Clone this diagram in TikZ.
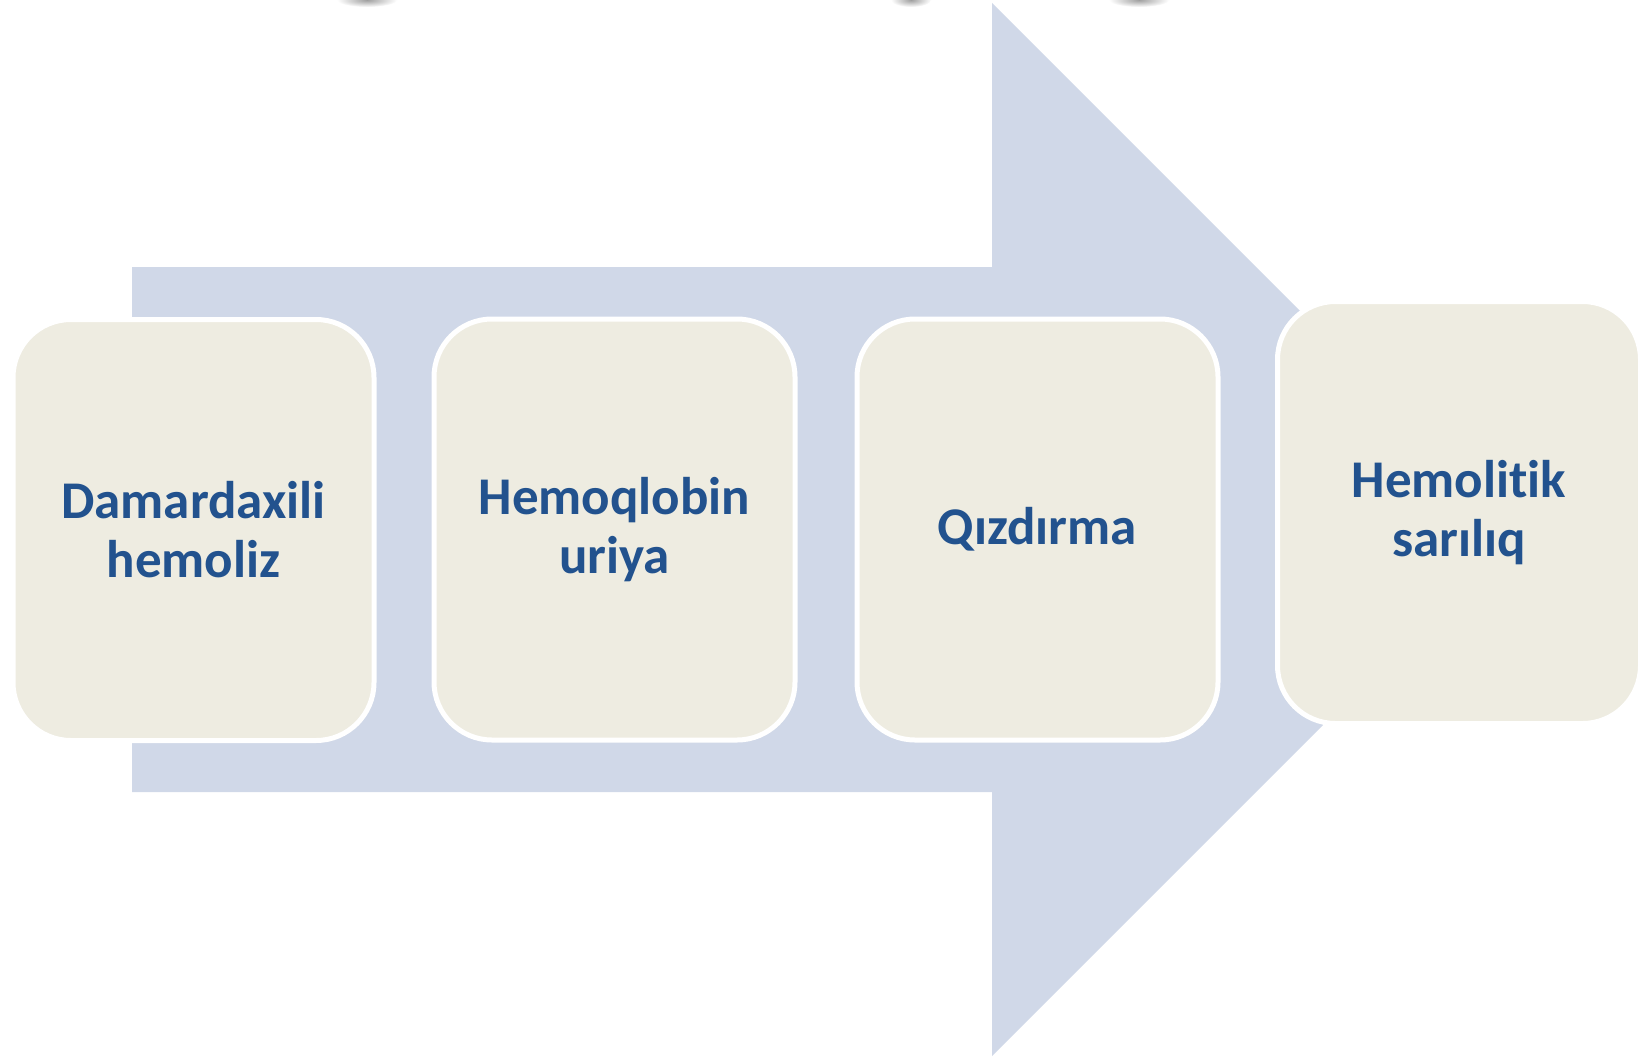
\documentclass[tikz,border=0pt]{standalone}
\usepackage{fontspec}
\setmainfont{Carlito}[Ligatures=NoCommon]
\definecolor{arrowfill}{HTML}{D0D8E8}
\definecolor{boxfill}{HTML}{EEECE1}
\definecolor{textblue}{HTML}{22528E}
\begin{document}
\begin{tikzpicture}[x=1pt,y=-1pt,
  stagebox/.style={draw=white, line width=5pt, fill=boxfill, rounded corners=58pt,
    minimum width=361pt, minimum height=421pt, inner sep=0pt, align=center,
    text=textblue, font=\fontsize{53}{59}\selectfont\bfseries},
  topshadow/.style={inner color=gray!75, outer color=white}]
\useasboundingbox (0,0) rectangle (1646,1057);
\fill[white] (0,0) rectangle (1646,1057);
% shadows cut at the top edge
\shade[topshadow] (367,0) ellipse [x radius=30, y radius=7];
\shade[topshadow] (911,0) ellipse [x radius=20, y radius=7];
\shade[topshadow] (1139,0) ellipse [x radius=30, y radius=7];
% big arrow
\fill[arrowfill] (132,267) -- (992,267) -- (992,3) -- (1518.5,529.5) -- (992,1056) -- (992,792) -- (132,792) -- cycle;
% boxes
\node[stagebox] (b1) at (193.5,530) {Damardaxili\\hemoliz};
\node[stagebox] (b2) at (614.5,529.5) {Hemoqlobin\\uriya};
\node[stagebox] (b3) at (1037.5,529.5) {Qızdırma};
\node[stagebox, minimum height=422pt, minimum width=363pt] (b4) at (1459,512.5) {Hemolitik\\sarılıq};
\end{tikzpicture}
\end{document}
